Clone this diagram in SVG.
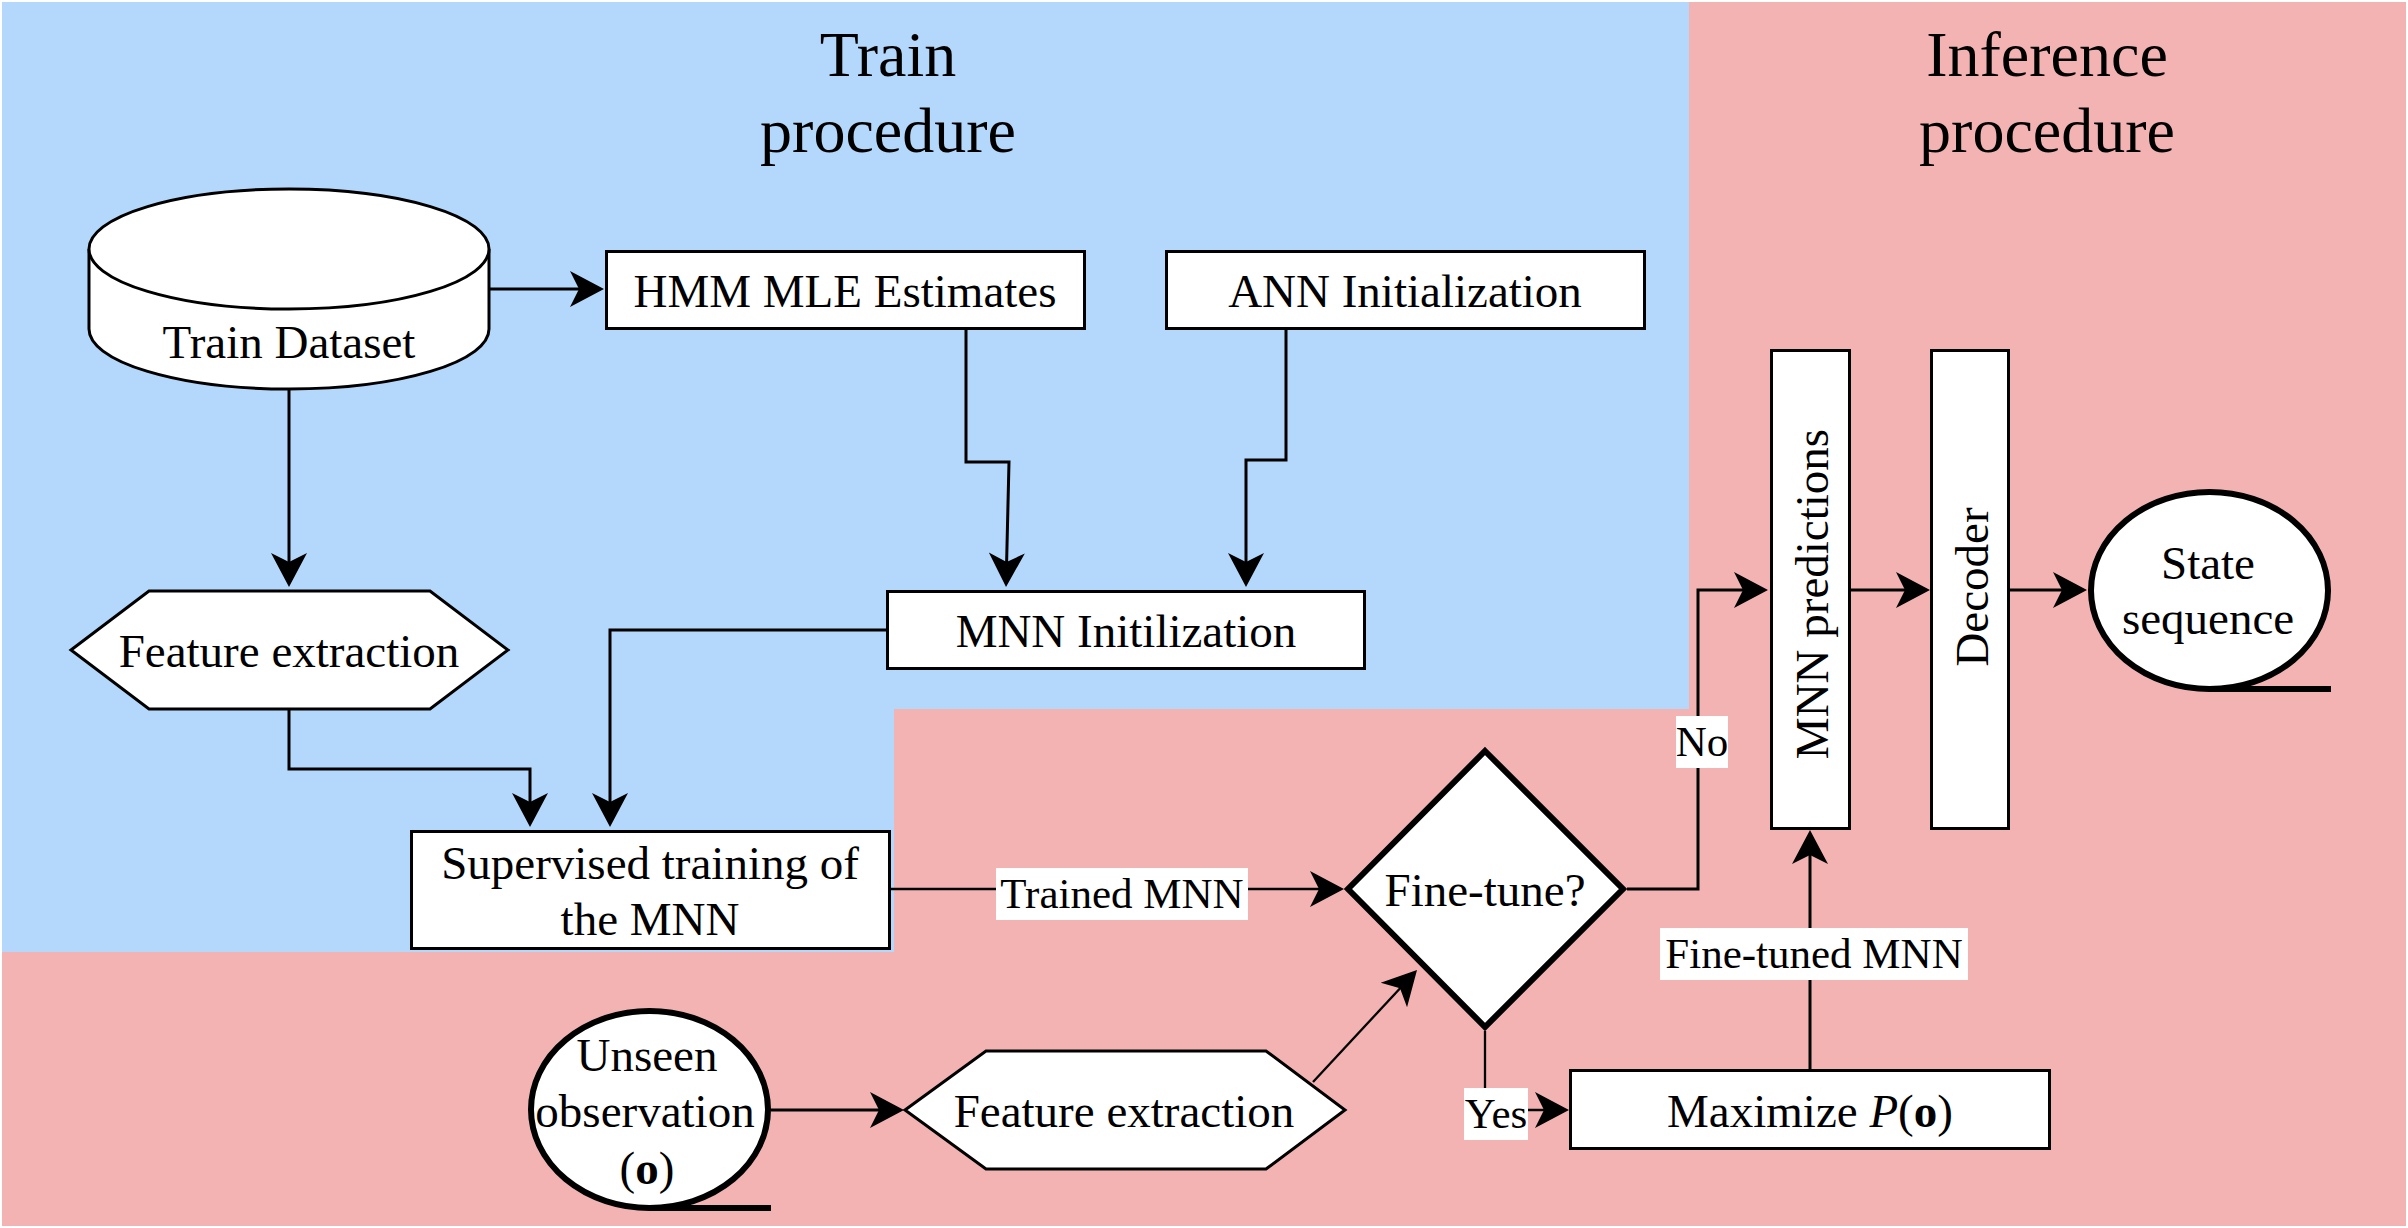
<svg xmlns="http://www.w3.org/2000/svg" width="2408" height="1228" viewBox="0 0 2408 1228">
<style>
text{font-family:"Liberation Serif","Times New Roman",serif;fill:#000}
.t{font-size:47px;text-anchor:middle}
.lb{font-size:43px;text-anchor:middle}
.title{font-size:64px;text-anchor:middle}
.box{fill:#fff;stroke:#000;stroke-width:3}
.thick{fill:#fff;stroke:#000;stroke-width:6}
.c{fill:none;stroke:#000;stroke-width:3;marker-end:url(#arr)}
.c2{fill:none;stroke:#000;stroke-width:2.3;marker-end:url(#arr)}
.lbg{fill:#fff}
</style>
<defs>
<marker id="arr" markerUnits="userSpaceOnUse" orient="auto" viewBox="-36 -20 38 40" refX="-20" refY="0" markerWidth="38" markerHeight="40">
<path d="M0,0 L-34,-18 L-25,0 L-34,18 Z" fill="#000"/>
</marker>
</defs>
<rect x="0" y="0" width="2408" height="1228" fill="#fff"/>
<g id="backgrounds">
<rect x="2" y="2" width="2404" height="1224" fill="#F4B3B3"/>
<path d="M2,2 H1689 V709 H894 V952 H2 Z" fill="#B3D8FC"/>
<text class="title" x="888" y="76">Train</text>
<text class="title" x="888" y="152">procedure</text>
<text class="title" x="2047" y="76">Inference</text>
<text class="title" x="2047" y="152">procedure</text>
</g>
<g id="connectors">
<path class="c" d="M489,289 H584"/>
<path class="c" d="M289,389 V567"/>
<path class="c" d="M966,330 V462 H1009 L1006.5,567"/>
<path class="c" d="M1286,330 V460 H1246 V567"/>
<path class="c" d="M886,630 H610 V807"/>
<path class="c" d="M289,710 V769 H530 V807"/>
<path class="c2" d="M891,889 H1324"/>
<path class="c" d="M1627,889 H1698 V590 H1748"/>
<path class="c" d="M1851,590 H1910"/>
<path class="c" d="M2010,590 H2067"/>
<path class="c" d="M1810,1069 V850"/>
<path class="c2" d="M1485,1031 V1110 H1549"/>
<path class="c" d="M771,1110 H884"/>
<path class="c2" d="M1313,1082 L1403.4,984.7"/>
<rect class="lbg" x="996" y="868" width="252" height="52"/>
<text class="lb" x="1122" y="908">Trained MNN</text>
<rect class="lbg" x="1676" y="716" width="52" height="52"/>
<text class="lb" x="1702" y="756">No</text>
<rect class="lbg" x="1464" y="1088" width="64" height="52"/>
<text class="lb" x="1496" y="1128">Yes</text>
<rect class="lbg" x="1660" y="928" width="308" height="52"/>
<text class="lb" x="1814" y="968">Fine-tuned MNN</text>
</g>
<g id="train-dataset">
<path class="box" d="M89,249 A200,60 0 0 1 489,249 V329 A200,60 0 0 1 89,329 Z"/>
<path class="box" d="M89,249 A200,60 0 0 0 489,249" fill="none"/>
<text class="t" x="289" y="358">Train Dataset</text>
</g>
<g id="hmm-mle">
<rect class="box" x="606.5" y="251.5" width="478" height="77"/>
<text class="t" x="845" y="307">HMM MLE Estimates</text>
</g>
<g id="ann-init">
<rect class="box" x="1166.5" y="251.5" width="478" height="77"/>
<text class="t" x="1405" y="307">ANN Initialization</text>
</g>
<g id="mnn-init">
<rect class="box" x="887.5" y="591.5" width="477" height="77"/>
<text class="t" x="1126" y="647">MNN Initilization</text>
</g>
<g id="feature-extraction-1">
<polygon class="box" points="71,650 149,591 430,591 508,650 430,709 149,709"/>
<text class="t" x="289" y="667">Feature extraction</text>
</g>
<g id="supervised-training">
<rect class="box" x="411.5" y="831.5" width="478" height="117"/>
<text class="t" x="650" y="879">Supervised training of</text>
<text class="t" x="650" y="935">the MNN</text>
</g>
<g id="fine-tune">
<polygon class="thick" points="1485,751 1623,889 1485,1027 1348,889"/>
<text class="t" x="1485" y="906">Fine-tune?</text>
</g>
<g id="mnn-predictions">
<rect class="box" x="1771.5" y="350.5" width="78" height="478"/>
<text class="t" transform="translate(1810,594) rotate(-90)" x="0" y="18">MNN predictions</text>
</g>
<g id="decoder">
<rect class="box" x="1931.5" y="350.5" width="77" height="478"/>
<text class="t" transform="translate(1970,587) rotate(-90)" x="0" y="18">Decoder</text>
</g>
<g id="state-sequence">
<ellipse class="thick" cx="2209.5" cy="590.5" rx="118.5" ry="98.5"/>
<line x1="2209" y1="689" x2="2331" y2="689" stroke="#000" stroke-width="6"/>
<text class="t" x="2208" y="579">State</text>
<text class="t" x="2208" y="634">sequence</text>
</g>
<g id="unseen-observation">
<ellipse class="thick" cx="649.5" cy="1109.5" rx="118.5" ry="98.5"/>
<line x1="649" y1="1208" x2="771" y2="1208" stroke="#000" stroke-width="6"/>
<text class="t" x="647" y="1071">Unseen</text>
<text class="t" x="645" y="1127">observation</text>
<text class="t" x="647" y="1184">(<tspan font-weight="bold">o</tspan>)</text>
</g>
<g id="feature-extraction-2">
<polygon class="box" points="905,1110 986,1051 1266,1051 1345,1110 1266,1169 986,1169"/>
<text class="t" x="1124" y="1127">Feature extraction</text>
</g>
<g id="maximize">
<rect class="box" x="1570.5" y="1070.5" width="479" height="78"/>
<text class="t" x="1810" y="1127">Maximize <tspan font-style="italic">P</tspan>(<tspan font-weight="bold">o</tspan>)</text>
</g>
</svg>
